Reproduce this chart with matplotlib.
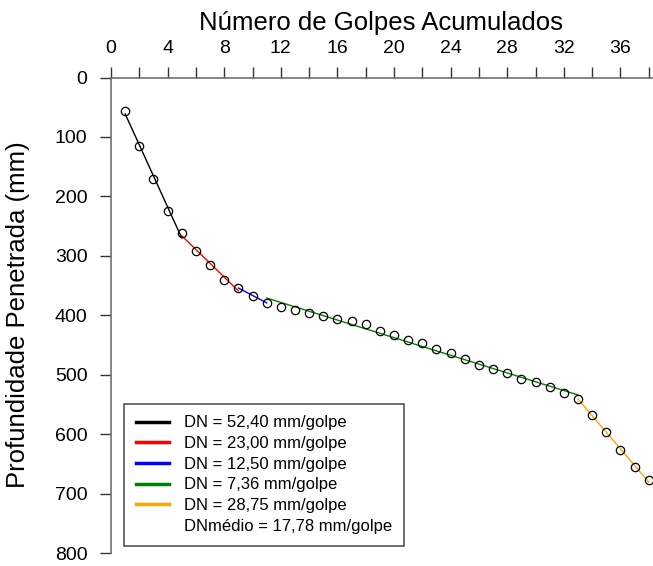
import numpy as np
import matplotlib
matplotlib.use('Agg')
import matplotlib.pyplot as plt
from matplotlib.lines import Line2D

plt.rcParams['font.family'] = ['Liberation Sans', 'DejaVu Sans']

# golpes acumulados e profundidade penetrada (mm)
golpes = list(range(1, 39))
profundidade = [56, 115, 170, 225, 262, 292, 315, 340, 354, 367,
                379, 386, 391, 396, 401, 406, 410, 415, 426, 434,
                442, 447, 456, 464, 474, 484, 490, 497, 507, 512,
                521, 530, 541, 567, 597, 627, 656, 677]

# trechos (golpe inicial, golpe final) de cada DN
trechos = [(1, 5), (5, 9), (9, 11), (11, 33), (33, 38)]
cores = ['black', 'red', 'blue', 'green', 'orange']
rotulos = ['DN = 52,40 mm/golpe', 'DN = 23,00 mm/golpe', 'DN = 12,50 mm/golpe',
           'DN = 7,36 mm/golpe', 'DN = 28,75 mm/golpe']
dn_medio = 'DNmédio = 17,78 mm/golpe'

x = np.array(golpes)
y = np.array(profundidade)

fig = plt.figure(figsize=(6.53, 5.66), dpi=100)
ax = fig.add_axes([111/653, 1-553/566, 542/653, 475.5/566])

handles = []
for (a, b), c, r in zip(trechos, cores, rotulos):
    m = (x >= a) & (x <= b)
    p = np.polyfit(x[m], y[m], 1)
    xs = np.array([a, b])
    ax.plot(xs, np.polyval(p, xs), color=c, lw=1.0, zorder=2)
    handles.append(Line2D([], [], color=c, lw=2.5, label=r))
handles.append(Line2D([], [], color='none', label=dn_medio))

ax.plot(x, y, 'o', mfc='none', mec='black', ms=6, mew=0.9, zorder=3)

ax.set_xlim(0, 38.3)
ax.set_ylim(800, 0)
ax.xaxis.tick_top()
ax.set_xticks(range(0, 37, 4))
ax.set_xticks(range(2, 39, 4), minor=True)
ax.set_yticks(range(0, 801, 100))
ax.tick_params(axis='both', which='both', direction='out', length=8, width=1,
               color='#333333', labelsize=14, pad=7)
ax.tick_params(axis='y', pad=9)

for s in ['right', 'bottom']:
    ax.spines[s].set_visible(False)
for s in ['left', 'top']:
    ax.spines[s].set_color('#707070')
    ax.spines[s].set_linewidth(1.2)

fig.text(381/653, 1-30/566, 'Número de Golpes Acumulados', fontsize=18.5,
         ha='center', va='baseline')
fig.text(18.5/653, 1-315/566, 'Profundidade Penetrada (mm)', fontsize=18.5,
         ha='center', va='center', rotation=90)

leg = ax.legend(handles=handles, loc='lower left',
                bbox_to_anchor=(13/542, 7.5/475.5), fontsize=12,
                frameon=True, fancybox=False, framealpha=1,
                edgecolor='#555555', labelspacing=0.34, handlelength=2.0,
                handletextpad=0.9, borderpad=0.7, borderaxespad=0)
leg.get_frame().set_linewidth(1.2)

fig.savefig('out.png', dpi=100)
